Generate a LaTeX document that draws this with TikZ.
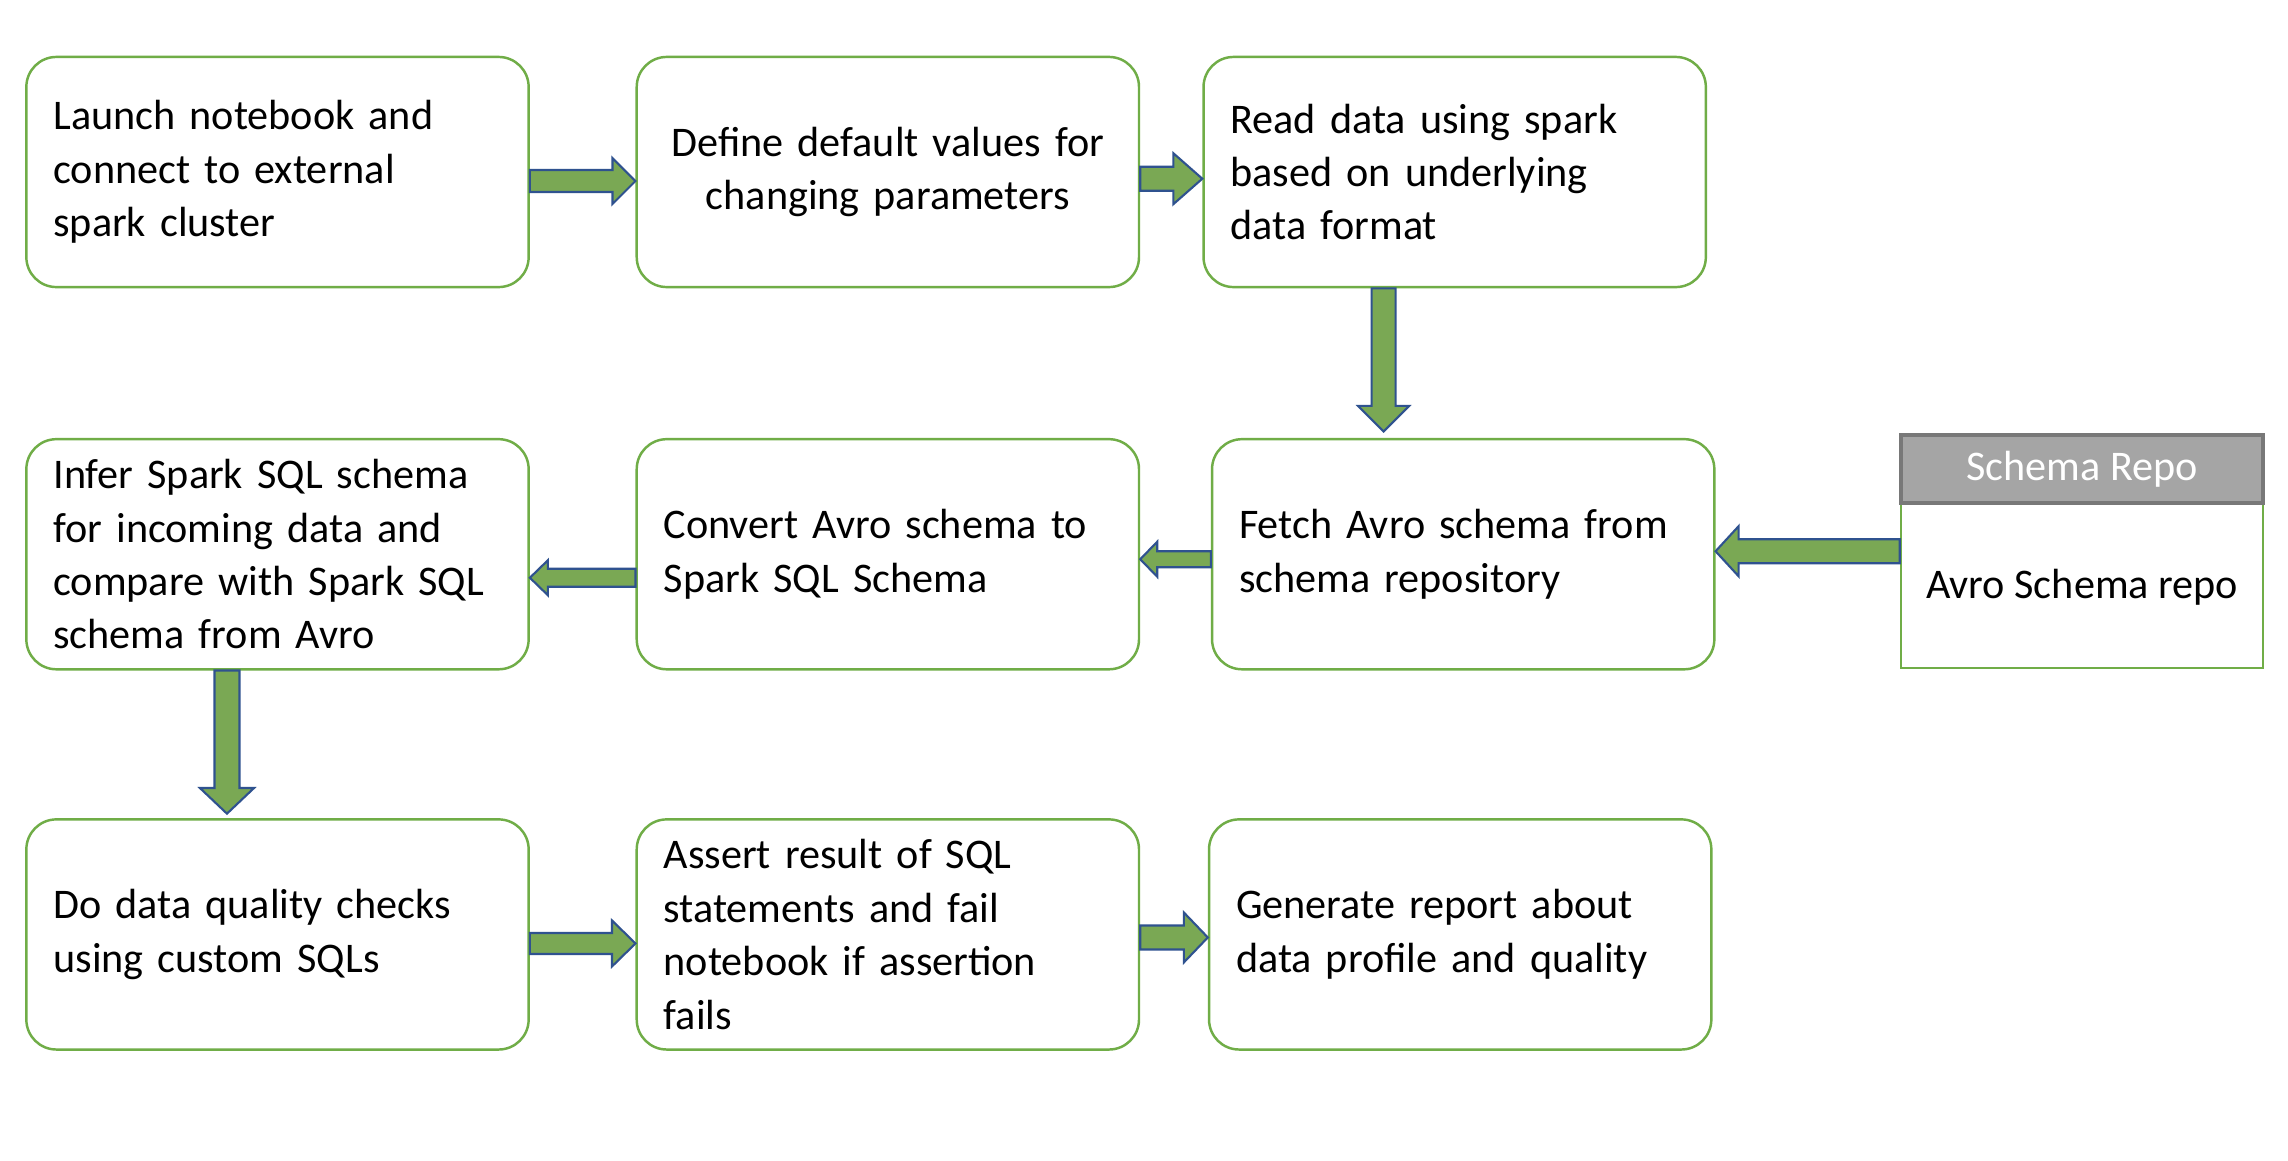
\documentclass[tikz,border=0pt]{standalone}
\usepackage{fontspec}
\setmainfont{Carlito}
\usepackage{tikz}
\usetikzlibrary{positioning,calc}

\definecolor{boxgreen}{RGB}{112,173,71}
\definecolor{arrowgreen}{RGB}{122,168,84}
\definecolor{arrowblue}{RGB}{47,82,143}
\definecolor{headgray}{RGB}{165,165,165}
\definecolor{headedge}{RGB}{120,120,120}

% fat block arrow: from, to, shaft half width, head half width, head length
\newcommand{\fatarrow}[5]{%
  \coordinate (fa-h) at ($#2!#5!#1$);
  \filldraw[fat arrow] ($#1!#3!90:#2$) -- ($(fa-h)!#3!-90:#1$) -- ($(fa-h)!#4!-90:#1$)
    -- #2 -- ($(fa-h)!#4!90:#1$) -- ($(fa-h)!#3!90:#1$) -- ($#1!#3!-90:#2$) -- cycle;
}

\begin{document}
\begin{tikzpicture}[x=0.01cm,y=-0.01cm,node distance=6.1cm,on grid,
  box/.style={draw=boxgreen,line width=0.7pt,rounded corners=0.3cm,
    minimum width=5.02cm,minimum height=2.3cm,text width=4.48cm,inner xsep=0.27cm,
    align=left,font=\fontsize{12}{15.2}\selectfont},
  fat arrow/.style={fill=arrowgreen,draw=arrowblue,line width=0.6pt,line join=miter}]
  \fill[white] (0,0) rectangle (2288,1160);
  \useasboundingbox (0,0) rectangle (2288,1160);

  % first row
  \node[box] (launch) at (277.5,172) {Launch notebook and\\connect to external\\spark cluster};
  \node[box,align=center] (defaults) [right=of launch] {Define default values for\\changing parameters};
  \node[box] (read) [right=5.665cm of defaults] {Read data using spark\\based on underlying\\data format};

  % second row
  \node[box] (infer) [below=3.82cm of launch] {Infer Spark SQL schema\\for incoming data and\\compare with Spark SQL\\schema from Avro};
  \node[box] (convert) [right=of infer] {Convert Avro schema to\\Spark SQL Schema};
  \node[box] (fetch) [right=5.75cm of convert] {Fetch Avro schema from\\schema repository};
  \node[draw=boxgreen,line width=0.7pt,minimum width=3.62cm,minimum height=2.33cm]
    (repo) [right=6.185cm of fetch,yshift=0.03cm] {};
  \node[fill=headgray,draw=headedge,line width=1pt,minimum width=3.62cm,minimum height=0.68cm,
    anchor=north,text=white,font=\fontsize{12}{15.2}\selectfont] (repotitle) at (repo.north) {Schema Repo};
  \node[font=\fontsize{12}{15.2}\selectfont] (repotext) at ($(repotitle.south)!0.5!(repo.south)$) {Avro Schema repo};

  % third row
  \node[box] (checks) [below=3.8cm of infer] {Do data quality checks\\using custom SQLs};
  \node[box] (assert) [right=of checks] {Assert result of SQL\\statements and fail\\notebook if assertion\\fails};
  \node[box] (report) [right=5.72cm of assert] {Generate report about\\data profile and quality};

  % arrows
  \fatarrow{([yshift=-.09cm]launch.east)}{([yshift=-.09cm]defaults.west)}{.11cm}{.23cm}{.23cm}
  \fatarrow{([yshift=-.067cm]defaults.east)}{([yshift=-.067cm]read.west)}{.12cm}{.255cm}{.29cm}
  \fatarrow{([xshift=-.71cm]read.south)}{([xshift=-.795cm,yshift=.065cm]fetch.north)}{.12cm}{.255cm}{.255cm}
  \fatarrow{(repo.west)}{([yshift=.03cm]fetch.east)}{.12cm}{.25cm}{.23cm}
  \fatarrow{([yshift=-.05cm]fetch.west)}{([yshift=-.05cm]convert.east)}{.08cm}{.175cm}{.17cm}
  \fatarrow{([yshift=-.235cm]convert.west)}{([yshift=-.235cm]infer.east)}{.09cm}{.175cm}{.18cm}
  \fatarrow{([xshift=-.505cm]infer.south)}{([xshift=-.505cm,yshift=.045cm]checks.north)}{.125cm}{.27cm}{.256cm}
  \fatarrow{([yshift=-.09cm]checks.east)}{([yshift=-.09cm]assert.west)}{.105cm}{.23cm}{.235cm}
  \fatarrow{([yshift=-.03cm]assert.east)}{([yshift=-.03cm]report.west)}{.12cm}{.25cm}{.24cm}
\end{tikzpicture}
\end{document}
